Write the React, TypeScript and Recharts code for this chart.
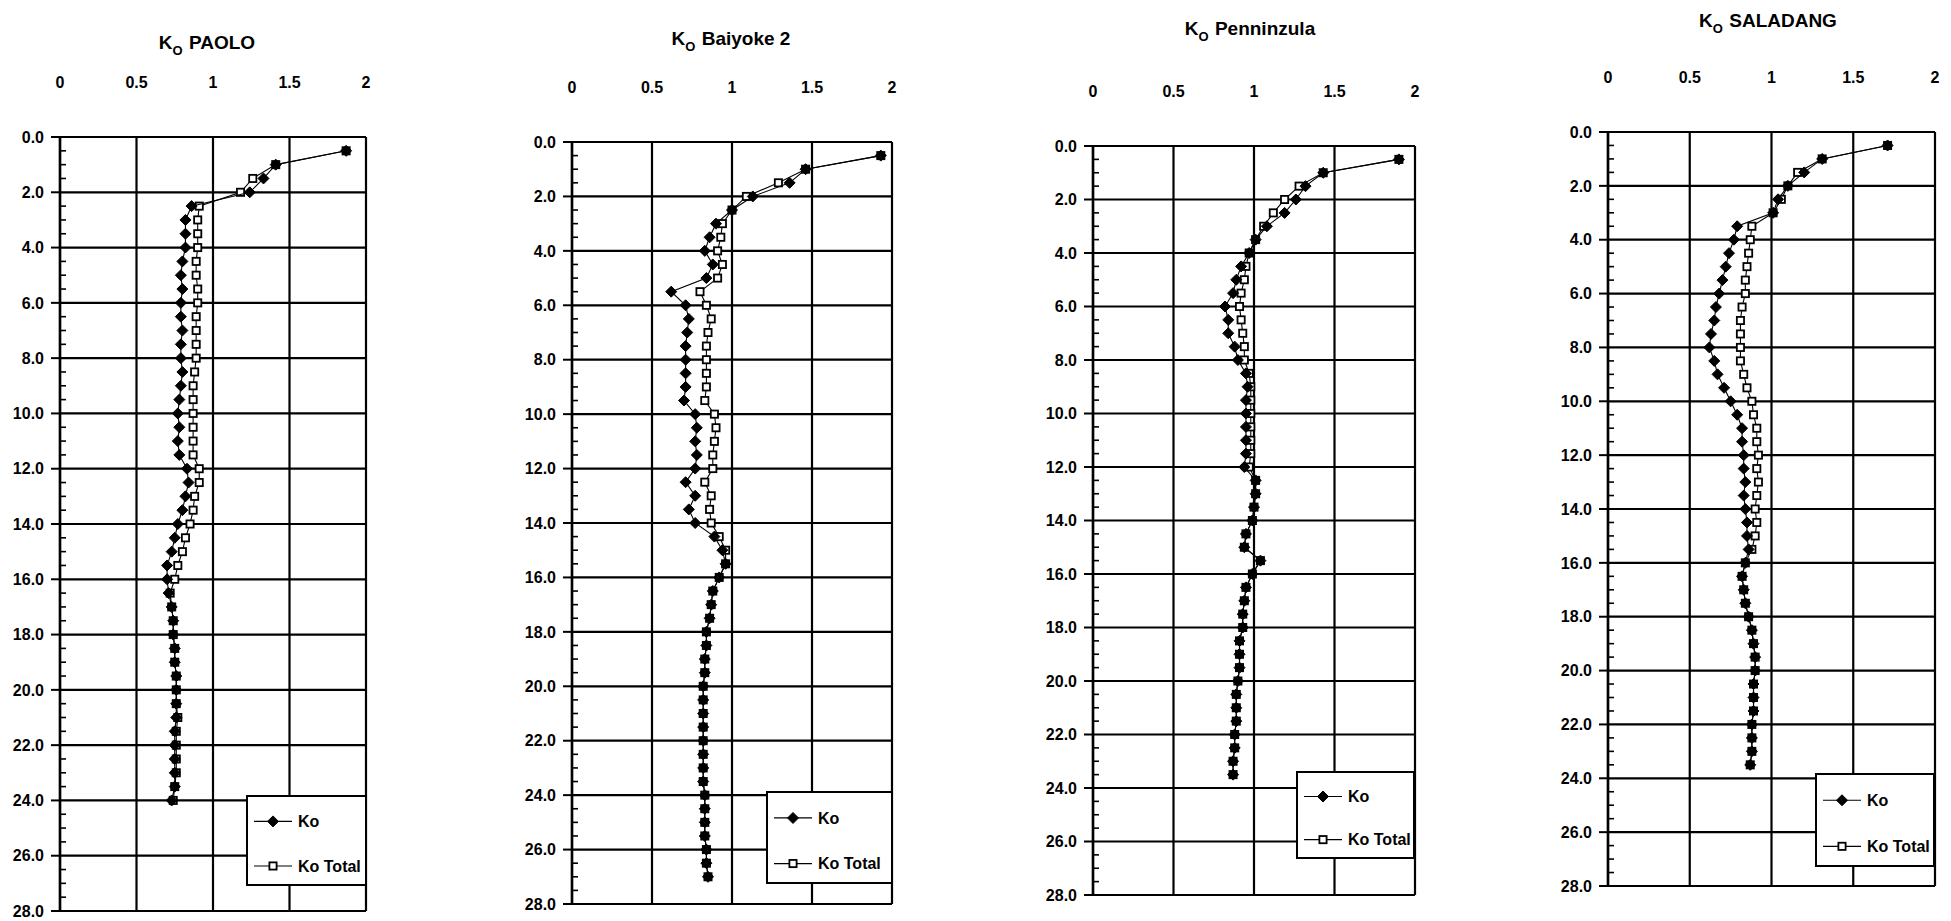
import React from 'react';
import { ScatterChart, Scatter, XAxis, YAxis, CartesianGrid, ReferenceLine, Legend } from 'recharts';

const FONT = '"Liberation Sans", Arial, Helvetica, sans-serif';

// ---------- axis ticks ----------
const xTicks = [0, 0.5, 1, 1.5, 2];
const depthMajorTicks = [0, 2, 4, 6, 8, 10, 12, 14, 16, 18, 20, 22, 24, 26, 28];
const depthMinorTicks = [
  0.5, 1, 1.5, 2.5, 3, 3.5, 4.5, 5, 5.5, 6.5, 7, 7.5, 8.5, 9, 9.5, 10.5, 11, 11.5,
  12.5, 13, 13.5, 14.5, 15, 15.5, 16.5, 17, 17.5, 18.5, 19, 19.5, 20.5, 21, 21.5,
  22.5, 23, 23.5, 24.5, 25, 25.5, 26.5, 27, 27.5,
];
const seriesNames = ['Ko', 'Ko Total'];

// ---------- PAOLO ----------
const paoloDepth = [
  0.5, 1.0, 1.5, 2.0, 2.5, 3.0, 3.5, 4.0, 4.5, 5.0, 5.5, 6.0, 6.5, 7.0, 7.5, 8.0,
  8.5, 9.0, 9.5, 10.0, 10.5, 11.0, 11.5, 12.0, 12.5, 13.0, 13.5, 14.0, 14.5, 15.0, 15.5, 16.0,
  16.5, 17.0, 17.5, 18.0, 18.5, 19.0, 19.5, 20.0, 20.5, 21.0, 21.5, 22.0, 22.5, 23.0, 23.5, 24.0,
];
const paoloKo = [
  1.87, 1.41, 1.33, 1.24, 0.86, 0.82, 0.82, 0.82, 0.80, 0.79, 0.80, 0.79, 0.79, 0.80, 0.79, 0.79,
  0.80, 0.79, 0.78, 0.77, 0.78, 0.77, 0.78, 0.83, 0.84, 0.82, 0.80, 0.77, 0.75, 0.73, 0.70, 0.70,
  0.71, 0.73, 0.74, 0.74, 0.75, 0.75, 0.76, 0.76, 0.76, 0.76, 0.75, 0.75, 0.75, 0.75, 0.75, 0.73,
];
const paoloKoTotal = [
  1.87, 1.41, 1.26, 1.18, 0.91, 0.90, 0.90, 0.90, 0.89, 0.89, 0.90, 0.90, 0.89, 0.89, 0.89, 0.89,
  0.88, 0.87, 0.87, 0.87, 0.87, 0.87, 0.87, 0.91, 0.91, 0.88, 0.87, 0.85, 0.82, 0.80, 0.77, 0.75,
  0.72, 0.73, 0.74, 0.74, 0.75, 0.75, 0.76, 0.76, 0.76, 0.77, 0.76, 0.76, 0.76, 0.76, 0.75, 0.74,
];

// ---------- Baiyoke 2 ----------
const baiyokeDepth = [
  0.5, 1.0, 1.5, 2.0, 2.5, 3.0, 3.5, 4.0, 4.5, 5.0, 5.5, 6.0, 6.5, 7.0, 7.5, 8.0, 8.5, 9.0,
  9.5, 10.0, 10.5, 11.0, 11.5, 12.0, 12.5, 13.0, 13.5, 14.0, 14.5, 15.0, 15.5, 16.0, 16.5, 17.0,
  17.5, 18.0, 18.5, 19.0, 19.5, 20.0, 20.5, 21.0, 21.5, 22.0, 22.5, 23.0, 23.5, 24.0, 24.5, 25.0,
  25.5, 26.0, 26.5, 27.0,
];
const baiyokeKo = [
  1.93, 1.46, 1.36, 1.13, 1.00, 0.90, 0.86, 0.83, 0.88, 0.84, 0.62, 0.71, 0.73, 0.72, 0.71, 0.71, 0.71, 0.71,
  0.70, 0.77, 0.78, 0.77, 0.78, 0.77, 0.71, 0.77, 0.73, 0.77, 0.89, 0.94, 0.96, 0.92, 0.88, 0.87,
  0.86, 0.84, 0.84, 0.83, 0.83, 0.82, 0.82, 0.82, 0.82, 0.82, 0.82, 0.82, 0.82, 0.83, 0.83, 0.83,
  0.83, 0.84, 0.84, 0.85,
];
const baiyokeKoTotal = [
  1.93, 1.46, 1.29, 1.09, 1.00, 0.94, 0.93, 0.91, 0.94, 0.91, 0.80, 0.84, 0.87, 0.85, 0.84, 0.84, 0.84, 0.84,
  0.83, 0.89, 0.90, 0.89, 0.88, 0.88, 0.83, 0.87, 0.86, 0.87, 0.92, 0.96, 0.96, 0.92, 0.88, 0.87,
  0.86, 0.84, 0.84, 0.83, 0.83, 0.82, 0.82, 0.82, 0.82, 0.82, 0.82, 0.82, 0.82, 0.83, 0.83, 0.83,
  0.83, 0.84, 0.84, 0.85,
];

// ---------- Penninzula ----------
const penDepth = [
  0.5, 1.0, 1.5, 2.0, 2.5, 3.0, 3.5, 4.0, 4.5, 5.0, 5.5, 6.0, 6.5, 7.0, 7.5, 8.0,
  8.5, 9.0, 9.5, 10.0, 10.5, 11.0, 11.5, 12.0, 12.5, 13.0, 13.5, 14.0, 14.5, 15.0, 15.5, 16.0,
  16.5, 17.0, 17.5, 18.0, 18.5, 19.0, 19.5, 20.0, 20.5, 21.0, 21.5, 22.0, 22.5, 23.0, 23.5,
];
const penKo = [
  1.90, 1.43, 1.32, 1.26, 1.19, 1.08, 1.01, 0.97, 0.92, 0.89, 0.87, 0.82, 0.84, 0.84, 0.88, 0.90,
  0.95, 0.96, 0.95, 0.95, 0.95, 0.95, 0.95, 0.94, 1.01, 1.01, 1.00, 0.99, 0.95, 0.94, 1.04, 0.99,
  0.95, 0.94, 0.93, 0.93, 0.91, 0.91, 0.91, 0.90, 0.89, 0.89, 0.89, 0.88, 0.88, 0.87, 0.87,
];
const penKoTotal = [
  1.90, 1.43, 1.28, 1.19, 1.12, 1.06, 1.01, 0.97, 0.95, 0.94, 0.92, 0.91, 0.92, 0.93, 0.94, 0.94,
  0.97, 0.98, 0.98, 0.98, 0.98, 0.98, 0.98, 0.97, 1.01, 1.01, 1.00, 0.99, 0.95, 0.94, 1.04, 0.99,
  0.95, 0.94, 0.93, 0.93, 0.91, 0.91, 0.91, 0.90, 0.89, 0.89, 0.89, 0.88, 0.88, 0.87, 0.87,
];

// ---------- SALADANG ----------
const salaDepth = [
  0.5, 1.0, 1.5, 2.0, 2.5, 3.0, 3.5, 4.0, 4.5, 5.0, 5.5, 6.0, 6.5, 7.0, 7.5, 8.0,
  8.5, 9.0, 9.5, 10.0, 10.5, 11.0, 11.5, 12.0, 12.5, 13.0, 13.5, 14.0, 14.5, 15.0, 15.5, 16.0,
  16.5, 17.0, 17.5, 18.0, 18.5, 19.0, 19.5, 20.0, 20.5, 21.0, 21.5, 22.0, 22.5, 23.0, 23.5,
];
const salaKo = [
  1.71, 1.31, 1.20, 1.10, 1.04, 1.01, 0.79, 0.77, 0.74, 0.72, 0.70, 0.68, 0.66, 0.65, 0.63, 0.62,
  0.65, 0.67, 0.71, 0.75, 0.79, 0.82, 0.82, 0.83, 0.83, 0.84, 0.83, 0.84, 0.85, 0.85, 0.86, 0.84,
  0.82, 0.83, 0.84, 0.86, 0.88, 0.89, 0.90, 0.90, 0.89, 0.89, 0.89, 0.88, 0.88, 0.88, 0.87,
];
const salaKoTotal = [
  1.71, 1.31, 1.16, 1.10, 1.06, 1.01, 0.88, 0.87, 0.86, 0.85, 0.84, 0.84, 0.82, 0.81, 0.81, 0.81,
  0.81, 0.83, 0.85, 0.88, 0.89, 0.91, 0.91, 0.92, 0.91, 0.92, 0.91, 0.90, 0.91, 0.90, 0.88, 0.84,
  0.82, 0.83, 0.84, 0.86, 0.88, 0.89, 0.90, 0.90, 0.89, 0.89, 0.89, 0.88, 0.88, 0.88, 0.87,
];

// ---------- layout (pixels) ----------
const charts = [
  { name: 'PAOLO', L: 60, T: 137, W: 306, H: 774, tx: 207, ty: 42, depth: paoloDepth, ko: paoloKo, kt: paoloKoTotal, lg: { x: 246, y: 795, w: 121, h: 91 } },
  { name: 'Baiyoke 2', L: 572, T: 142, W: 320, H: 762, tx: 731, ty: 38, depth: baiyokeDepth, ko: baiyokeKo, kt: baiyokeKoTotal, lg: { x: 766, y: 791, w: 127, h: 93 } },
  { name: 'Penninzula', L: 1093, T: 146, W: 322, H: 749, tx: 1250, ty: 28, depth: penDepth, ko: penKo, kt: penKoTotal, lg: { x: 1296, y: 771, w: 119, h: 88 } },
  { name: 'SALADANG', L: 1608, T: 132, W: 327, H: 754, tx: 1768, ty: 20, depth: salaDepth, ko: salaKo, kt: salaKoTotal, lg: { x: 1815, y: 773, w: 120, h: 94 } },
];

const AX = 70;
const AY = 70;
const allDepthTicks = [...depthMajorTicks, ...depthMinorTicks].sort((a, b) => a - b);

const DiamondShape = (p: any) => {
  const { cx, cy } = p;
  if (cx == null || cy == null) return null;
  const r = 5.5;
  return <path d={`M${cx},${cy - r}L${cx + r},${cy}L${cx},${cy + r}L${cx - r},${cy}Z`} fill="#000" stroke="#000" strokeWidth={1} />;
};
const SquareShape = (p: any) => {
  const { cx, cy } = p;
  if (cx == null || cy == null) return null;
  const s = 3.6;
  return <rect x={cx - s} y={cy - s} width={2 * s} height={2 * s} fill="#fff" stroke="#000" strokeWidth={1.8} />;
};

const DepthTick = (props: any) => {
  const { x, y, payload } = props;
  const v = Number(payload.value);
  const major = Math.abs(v / 2 - Math.round(v / 2)) < 1e-6;
  if (major) {
    return (
      <g>
        <line x1={x - 9} y1={y} x2={x} y2={y} stroke="#000" strokeWidth={2} />
        <text x={x - 16} y={y} dy="0.36em" textAnchor="end" fontFamily={FONT} fontWeight="bold" fontSize={16} fill="#000">
          {v.toFixed(1)}
        </text>
      </g>
    );
  }
  return <line x1={x} y1={y} x2={x + 6} y2={y} stroke="#000" strokeWidth={1.6} />;
};

const LegendBox = ({ payload, w, h }: any) => {
  const names: string[] = (payload || []).map((e: any) => String(e.value));
  const ordered = seriesNames.filter((n) => names.includes(n));
  const rows = [0.29 * h, 0.78 * h];
  return (
    <svg width={w} height={h} style={{ display: 'block' }}>
      <rect x={1} y={1} width={w - 2} height={h - 2} fill="#fff" stroke="#000" strokeWidth={2} />
      {ordered.map((n, i) => {
        const y = rows[i];
        return (
          <g key={n}>
            <line x1={8} x2={46} y1={y} y2={y} stroke="#000" strokeWidth={1.2} />
            {n === 'Ko' ? DiamondShape({ cx: 27, cy: y }) : SquareShape({ cx: 27, cy: y })}
            <text x={52} y={y} dy="0.36em" fontFamily={FONT} fontWeight="bold" fontSize={16} fill="#000">{n}</text>
          </g>
        );
      })}
    </svg>
  );
};

const KoChart = ({ c }: any) => {
  const koData = c.depth.map((d: number, i: number) => ({ depth: d, k: c.ko[i] }));
  const ktData = c.depth.map((d: number, i: number) => ({ depth: d, k: c.kt[i] }));
  const left = c.L - AX;
  const top = c.T - AY;
  return (
    <>
      <div
        style={{
          position: 'absolute', left: c.tx, top: c.ty, transform: 'translate(-50%,-50%)',
          fontFamily: FONT, fontSize: 19, fontWeight: 'bold', whiteSpace: 'nowrap', lineHeight: 1, color: '#000',
        }}
      >
        K<span style={{ fontSize: 13, position: 'relative', top: 6, marginRight: 1 }}>O</span> {c.name}
      </div>
      <div style={{ position: 'absolute', left, top }}>
        <ScatterChart width={c.W + AX + 12} height={c.H + AY + 14} margin={{ top: 0, left: 0, right: 12, bottom: 14 }}>
          <CartesianGrid horizontal={false} stroke="#000" strokeWidth={2.2} />
          <XAxis
            type="number" dataKey="k" orientation="top" domain={[0, 2]} ticks={xTicks} height={AY}
            axisLine={false} tickLine={false} tickSize={0} tickMargin={49} interval={0}
            tick={{ fill: '#000', fontSize: 16, fontWeight: 'bold', fontFamily: FONT }}
          />
          <YAxis
            type="number" dataKey="depth" domain={[0, 28]} reversed ticks={allDepthTicks} width={AX}
            interval={0} tickLine={false} tickSize={0} tickMargin={0}
            axisLine={{ stroke: '#000', strokeWidth: 2.5 }}
            tick={(p: any) => <DepthTick {...p} />}
          />
          {depthMajorTicks.map((v) => (
            <ReferenceLine key={v} y={v} stroke="#000" strokeWidth={2.2} ifOverflow="visible" />
          ))}
          <Scatter name="Ko Total" data={ktData} shape={SquareShape} line={{ stroke: '#000', strokeWidth: 1.1 }} isAnimationActive={false} />
          <Scatter name="Ko" data={koData} shape={DiamondShape} line={{ stroke: '#000', strokeWidth: 1.1 }} isAnimationActive={false} />
          <Legend
            layout="vertical" align="center" verticalAlign="middle"
            wrapperStyle={{ position: 'absolute', left: c.lg.x - left, top: c.lg.y - top, width: c.lg.w, height: c.lg.h, margin: 0, padding: 0 }}
            content={(p: any) => <LegendBox payload={p.payload} w={c.lg.w} h={c.lg.h} />}
          />
        </ScatterChart>
      </div>
    </>
  );
};

export default function App() {
  return (
    <div style={{ position: 'absolute', left: 0, top: 0, width: 1951, height: 921, background: '#fff', overflow: 'hidden' }}>
      {charts.map((c) => (
        <KoChart key={c.name} c={c} />
      ))}
    </div>
  );
}
